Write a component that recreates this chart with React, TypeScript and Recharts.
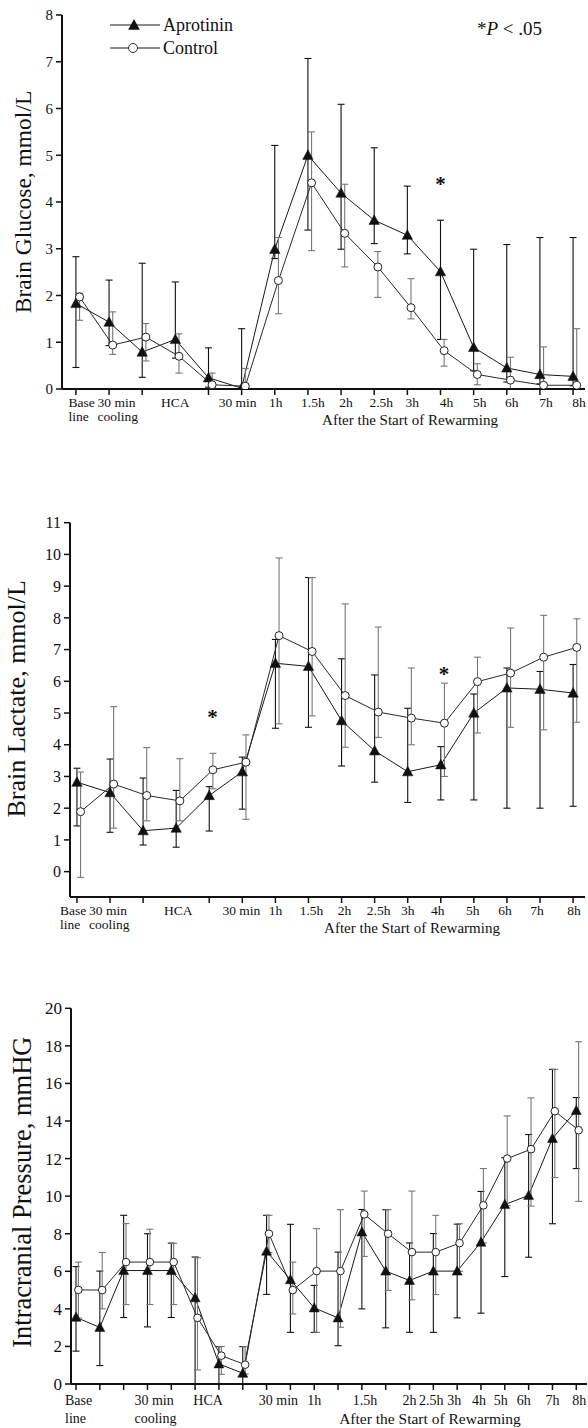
import React from 'react';
import { LineChart, Line, XAxis, YAxis, ErrorBar, ReferenceDot } from 'recharts';

const FONT = '"Liberation Serif", "Times New Roman", Times, serif';
const INK = '#111';
const W = 588;

// ---------- Panel 1: Brain Glucose ----------
const glucoseApro = [1.83, 1.43, 0.79, 1.06, 0.24, 0.02, 2.99, 5.0, 4.19, 3.61, 3.29, 2.51, 0.89, 0.45, 0.31, 0.27];
const glucoseAproErr = [[1.37, 1.0], [0.5, 0.9], [0.54, 1.9], [0.4, 1.23], [0.2, 0.64], [0.02, 1.27], [0.2, 2.22], [1.6, 2.07], [1.2, 1.9], [0.5, 1.55], [0.4, 1.05], [1.45, 1.1], [0.5, 2.1], [0.3, 2.64], [0.2, 2.93], [0.2, 2.97]];
const glucoseCtrl = [1.97, 0.94, 1.11, 0.7, 0.09, 0.06, 2.32, 4.41, 3.33, 2.61, 1.74, 0.82, 0.31, 0.19, 0.08, 0.08];
const glucoseCtrlErr = [[0.5, 0.08], [0.2, 0.71], [0.51, 0.29], [0.36, 0.48], [0.09, 0.25], [0.06, 0.38], [0.71, 0.92], [1.45, 1.09], [0.72, 1.05], [0.65, 0.33], [0.24, 0.62], [0.33, 0.24], [0.22, 0.23], [0.19, 0.49], [0.08, 0.82], [0.08, 1.21]];
const glucoseTicks = [0, 1, 2, 3, 4, 5, 6, 7, 8];
const glucoseStars = [{ x: 11, y: 4.48 }];

// ---------- Panel 2: Brain Lactate ----------
const lactateApro = [2.82, 2.49, 1.29, 1.37, 2.4, 3.15, 6.57, 6.47, 4.76, 3.81, 3.15, 3.37, 5.0, 5.79, 5.75, 5.63];
const lactateAproErr = [[1.38, 0.44], [1.25, 1.06], [0.45, 1.66], [0.6, 1.19], [1.12, 0.28], [1.18, 0.46], [2.05, 0.75], [1.92, 2.8], [1.43, 1.95], [0.99, 2.39], [0.97, 2.0], [1.11, 0.57], [2.74, 0.6], [3.79, 0.63], [3.75, 0.56], [3.57, 0.9]];
const lactateCtrl = [1.89, 2.76, 2.4, 2.23, 3.21, 3.45, 7.44, 6.94, 5.55, 5.03, 4.84, 4.68, 5.99, 6.26, 6.76, 7.07];
const lactateCtrlErr = [[2.07, 1.25], [1.39, 2.44], [0.8, 1.51], [0.63, 1.33], [0.6, 0.52], [1.8, 0.86], [2.78, 2.45], [2.03, 2.33], [1.63, 2.89], [0.8, 2.68], [0.84, 1.58], [1.68, 1.26], [1.62, 0.77], [1.71, 1.42], [2.29, 1.32], [2.36, 0.9]];
const lactateTicks = [0, 1, 2, 3, 4, 5, 6, 7, 8, 9, 10, 11];
const lactateStars = [{ x: 4.1, y: 5.0 }, { x: 11.1, y: 6.36 }];

// ---------- Panel 3: Intracranial Pressure ----------
const icpApro = [3.55, 3.01, 6.04, 6.04, 6.04, 4.59, 1.07, 0.57, 7.07, 5.55, 4.05, 3.52, 8.09, 6.01, 5.51, 6.01, 6.01, 7.55, 9.55, 10.04, 13.07, 14.56];
const icpAproErr = [[1.8, 2.7], [2.03, 3.0], [2.5, 2.94], [3.0, 1.96], [2.5, 1.46], [4.59, 2.17], [1.07, 0.92], [0.57, 1.42], [2.3, 1.91], [2.8, 2.95], [1.3, 1.2], [1.48, 3.5], [4.09, 1.2], [3.02, 3.27], [2.76, 2.0], [3.26, 2.0], [2.49, 2.5], [3.78, 2.7], [3.83, 2.5], [3.29, 3.24], [4.54, 3.68], [3.09, 0.69]];
const icpCtrl = [5.01, 5.0, 6.49, 6.49, 6.49, 3.52, 1.51, 1.03, 8.0, 5.0, 6.01, 6.01, 9.03, 8.0, 7.02, 7.02, 7.5, 9.51, 12.0, 12.5, 14.52, 13.51];
const icpCtrlErr = [[1.5, 1.48], [1.0, 2.0], [2.26, 2.05], [2.26, 1.75], [2.26, 1.0], [2.77, 3.2], [1.0, 0.48], [0.5, 0.96], [1.0, 0.98], [1.27, 1.49], [3.26, 2.26], [2.99, 3.27], [2.24, 1.24], [3.02, 1.28], [2.54, 3.25], [2.26, 1.96], [1.5, 1.03], [2.0, 1.96], [2.5, 2.27], [3.03, 2.73], [3.53, 2.23], [3.79, 4.71]];
const icpTicks = [0, 2, 4, 6, 8, 10, 12, 14, 16, 18, 20];

// ---------- category labels ----------
const shortTop = ['Base', '30 min', '', 'HCA', '', '30 min', '1h', '1.5h', '2h', '2.5h', '3h', '4h', '5h', '6h', '7h', '8h'];
const shortBottom = ['line', 'cooling', '', '', '', '', '', '', '', '', '', '', '', '', '', ''];
const longTop = ['Base', '', '', '30 min', '', 'HCA', '', '', '', '30 min', '1h', '', '1.5h', '', '2h', '2.5h', '3h', '4h', '5h', '6h', '7h', '8h'];
const longBottom = ['line', '', '', 'cooling', '', '', '', '', '', '', '', '', '', '', '', '', '', '', '', '', '', ''];
const subtitle = 'After the Start of Rewarming';
const seriesNames = ['Aprotinin', 'Control'];

// ---------- layout constants (label nudges) ----------
const p1Dx = [-7.5, -11.5, 0, 0, 0, -4, 1, 5, 5, 7, 5, 6, 6, 5, 6, 6];
const p1Start = [0, 1];
const p2Dx = [-17, -21, 0, 2, 0, -1, 0, 3, 3, 4, 0, -3, -1, -2, -3, 1];
const p2Start = [0, 1];
const p3Dx = [-11, 0, 0, -13, 0, 13, 0, 0, 0, -12, 0, 0, 3, 0, 0, -2, -3, -2, -4, -5, 0, 3];
const p3Start = [0, 3];

type Pt = { x: number; y: number; e: number[] };
const toPts = (vals: number[], errs: number[][], shift: number): Pt[] =>
  vals.map((v, i) => ({ x: i + shift, y: v, e: errs[i] }));
const range = (n: number) => Array.from({ length: n }, (_, i) => i);

const triPath = (cx: number, cy: number, r: number) =>
  `M${cx},${cy - r * 1.05} L${cx + r},${cy + r * 0.8} L${cx - r},${cy + r * 0.8} Z`;

const renderTri = (r: number) => (p: any) => (
  <path key={`t-${p.index}`} d={triPath(p.cx, p.cy, r)} fill="#111" stroke="#111" strokeWidth={0.5} />
);
const renderCirc = (r: number) => (p: any) => (
  <circle key={`c-${p.index}`} cx={p.cx} cy={p.cy} r={r} fill="#fff" stroke="#222" strokeWidth={1} />
);

const makeXTick = (
  top: string[], bottom: string[], dx: number[], startIdx: number[], lineIdx: number[],
  fs: number, y1: number, y2: number
) => (props: any) => {
  const { x, y, payload } = props;
  const i = Math.round(payload.value);
  const d = dx[i] ?? 0;
  const anchor = startIdx.includes(i) ? 'start' : 'middle';
  return (
    <g>
      {lineIdx.includes(i) && <line x1={x} x2={x} y1={y} y2={y + 6} stroke={INK} strokeWidth={1.5} />}
      {top[i] ? (
        <text x={x + d} y={y + y1} textAnchor={anchor} fontSize={fs} fontFamily={FONT} fill={INK}>{top[i]}</text>
      ) : null}
      {bottom[i] ? (
        <text x={x + d} y={y + y2} textAnchor={anchor} fontSize={fs} fontFamily={FONT} fill={INK}>{bottom[i]}</text>
      ) : null}
    </g>
  );
};

const makeYLabel = (text: string, cx: number, shift: number, fs: number) => (p: any) => {
  const vb = p.viewBox || { y: 0, height: 0 };
  const cy = vb.y + vb.height / 2 + shift;
  return (
    <text x={cx} y={cy} transform={`rotate(-90 ${cx} ${cy})`} textAnchor="middle" dominantBaseline="central"
      fontSize={fs} fontFamily={FONT} fill={INK}>{text}</text>
  );
};

const makeXLabel = (text: string, cx: number, dy: number, fs: number) => (p: any) => {
  const vb = p.viewBox || { y: 0 };
  return (
    <text x={cx} y={vb.y + dy} textAnchor="middle" fontSize={fs} fontFamily={FONT} fill={INK}>{text}</text>
  );
};

const renderStar = (p: any) => (
  <text x={p.cx} y={p.cy + 11} textAnchor="middle" fontSize={21} fontFamily={FONT} fontWeight="bold" fill={INK}>*</text>
);

type PanelProps = {
  top: number; height: number; yAxisWidth: number; marginTop: number; marginRight: number; xAxisHeight: number;
  xDomain: [number, number]; yDomain: [number, number]; yTicks: number[]; xTicks: number[];
  apro: Pt[]; ctrl: Pt[]; xTick: any; yFont: number; yLabel: any; xLabel: any;
  stars: { x: number; y: number }[]; triR: number; circR: number;
};

function Panel(pp: PanelProps) {
  return (
    <div style={{ position: 'absolute', left: 0, top: pp.top, width: W, height: pp.height }}>
      <LineChart width={W} height={pp.height} margin={{ top: pp.marginTop, right: pp.marginRight, bottom: 0, left: 0 }}>
        <XAxis type="number" dataKey="x" domain={pp.xDomain} ticks={pp.xTicks} interval={0} allowDataOverflow
          height={pp.xAxisHeight} axisLine={{ stroke: INK, strokeWidth: 2 }} tickLine={false} tickSize={0} tickMargin={0}
          tick={pp.xTick} label={pp.xLabel} />
        <YAxis type="number" domain={pp.yDomain} ticks={pp.yTicks} interval={0} allowDataOverflow width={pp.yAxisWidth}
          axisLine={{ stroke: INK, strokeWidth: 2 }} tickLine={{ stroke: INK, strokeWidth: 1.5 }} tickSize={6} tickMargin={3}
          tick={{ fontSize: pp.yFont, fontFamily: FONT, fill: INK }} label={pp.yLabel} />
        <Line data={pp.apro} dataKey="y" name={seriesNames[0]} stroke="#1a1a1a" strokeWidth={1} dot={renderTri(pp.triR)}
          activeDot={false} isAnimationActive={false}>
          <ErrorBar dataKey="e" direction="y" width={3.5} stroke="#111" strokeWidth={1.1} />
        </Line>
        <Line data={pp.ctrl} dataKey="y" name={seriesNames[1]} stroke="#2a2a2a" strokeWidth={1} dot={renderCirc(pp.circR)}
          activeDot={false} isAnimationActive={false}>
          <ErrorBar dataKey="e" direction="y" width={3.5} stroke="#777" strokeWidth={1.1} />
        </Line>
        {pp.stars.map((s, k) => (
          <ReferenceDot key={k} x={s.x} y={s.y} r={0} shape={renderStar} />
        ))}
      </LineChart>
    </div>
  );
}

export default function App() {
  const p1Lines = range(16).filter((i) => i !== 3);
  return (
    <div style={{ position: 'absolute', left: 0, top: 0, width: W, height: 1428, background: '#fff', overflow: 'hidden' }}>
      <Panel
        top={0} height={431} yAxisWidth={62} marginTop={15} marginRight={3} xAxisHeight={42}
        xDomain={[-0.42, 15.36]} yDomain={[0, 8]} yTicks={glucoseTicks} xTicks={range(16)}
        apro={toPts(glucoseApro, glucoseAproErr, 0)} ctrl={toPts(glucoseCtrl, glucoseCtrlErr, 0.11)}
        xTick={makeXTick(shortTop, shortBottom, p1Dx, p1Start, p1Lines, 13.5, 18, 32)}
        yFont={15} yLabel={makeYLabel('Brain Glucose, mmol/L', 22.5, 0, 23.5)}
        xLabel={makeXLabel(subtitle, 410, 36, 15)}
        stars={glucoseStars} triR={5.2} circR={4}
      />
      <Panel
        top={450} height={489} yAxisWidth={70} marginTop={72.7} marginRight={3} xAxisHeight={42}
        xDomain={[-0.21, 15.36]} yDomain={[-0.8, 11]} yTicks={lactateTicks} xTicks={range(16)}
        apro={toPts(lactateApro, lactateAproErr, 0)} ctrl={toPts(lactateCtrl, lactateCtrlErr, 0.11)}
        xTick={makeXTick(shortTop, shortBottom, p2Dx, p2Start, p1Lines, 13.5, 18, 32)}
        yFont={16} yLabel={makeYLabel('Brain Lactate, mmol/L', 16.5, -11, 26)}
        xLabel={makeXLabel(subtitle, 412, 36, 15)}
        stars={lactateStars} triR={5.2} circR={4}
      />
      <Panel
        top={960} height={468} yAxisWidth={71} marginTop={48.3} marginRight={1} xAxisHeight={44}
        xDomain={[-0.21, 21.45]} yDomain={[0, 20]} yTicks={icpTicks} xTicks={range(22)}
        apro={toPts(icpApro, icpAproErr, 0)} ctrl={toPts(icpCtrl, icpCtrlErr, 0.1)}
        xTick={makeXTick(longTop, longBottom, p3Dx, p3Start, range(22), 14, 21, 39)}
        yFont={17} yLabel={makeYLabel('Intracranial Pressure, mmHG', 22, -4, 26.5)}
        xLabel={makeXLabel(subtitle, 430, 40, 15.5)}
        stars={[]} triR={5} circR={3.8}
      />
      <svg width={W} height={70} style={{ position: 'absolute', left: 0, top: 0, pointerEvents: 'none' }}>
        <line x1={110} x2={160} y1={25} y2={25} stroke="#1a1a1a" strokeWidth={1} />
        <path d={triPath(134, 25, 5.8)} fill="#111" />
        <text x={163} y={31} fontSize={18} fontFamily={FONT} fill={INK}>{seriesNames[0]}</text>
        <line x1={110} x2={160} y1={48} y2={48} stroke="#1a1a1a" strokeWidth={1} />
        <circle cx={133} cy={48} r={4.5} fill="#fff" stroke="#333" strokeWidth={1} />
        <text x={163} y={54} fontSize={18} fontFamily={FONT} fill={INK}>{seriesNames[1]}</text>
        <text x={477} y={35} fontSize={19} fontFamily={FONT} fill={INK}>
          <tspan>*</tspan>
          <tspan fontStyle="italic">P</tspan>
          <tspan> &lt; .05</tspan>
        </text>
      </svg>
    </div>
  );
}
